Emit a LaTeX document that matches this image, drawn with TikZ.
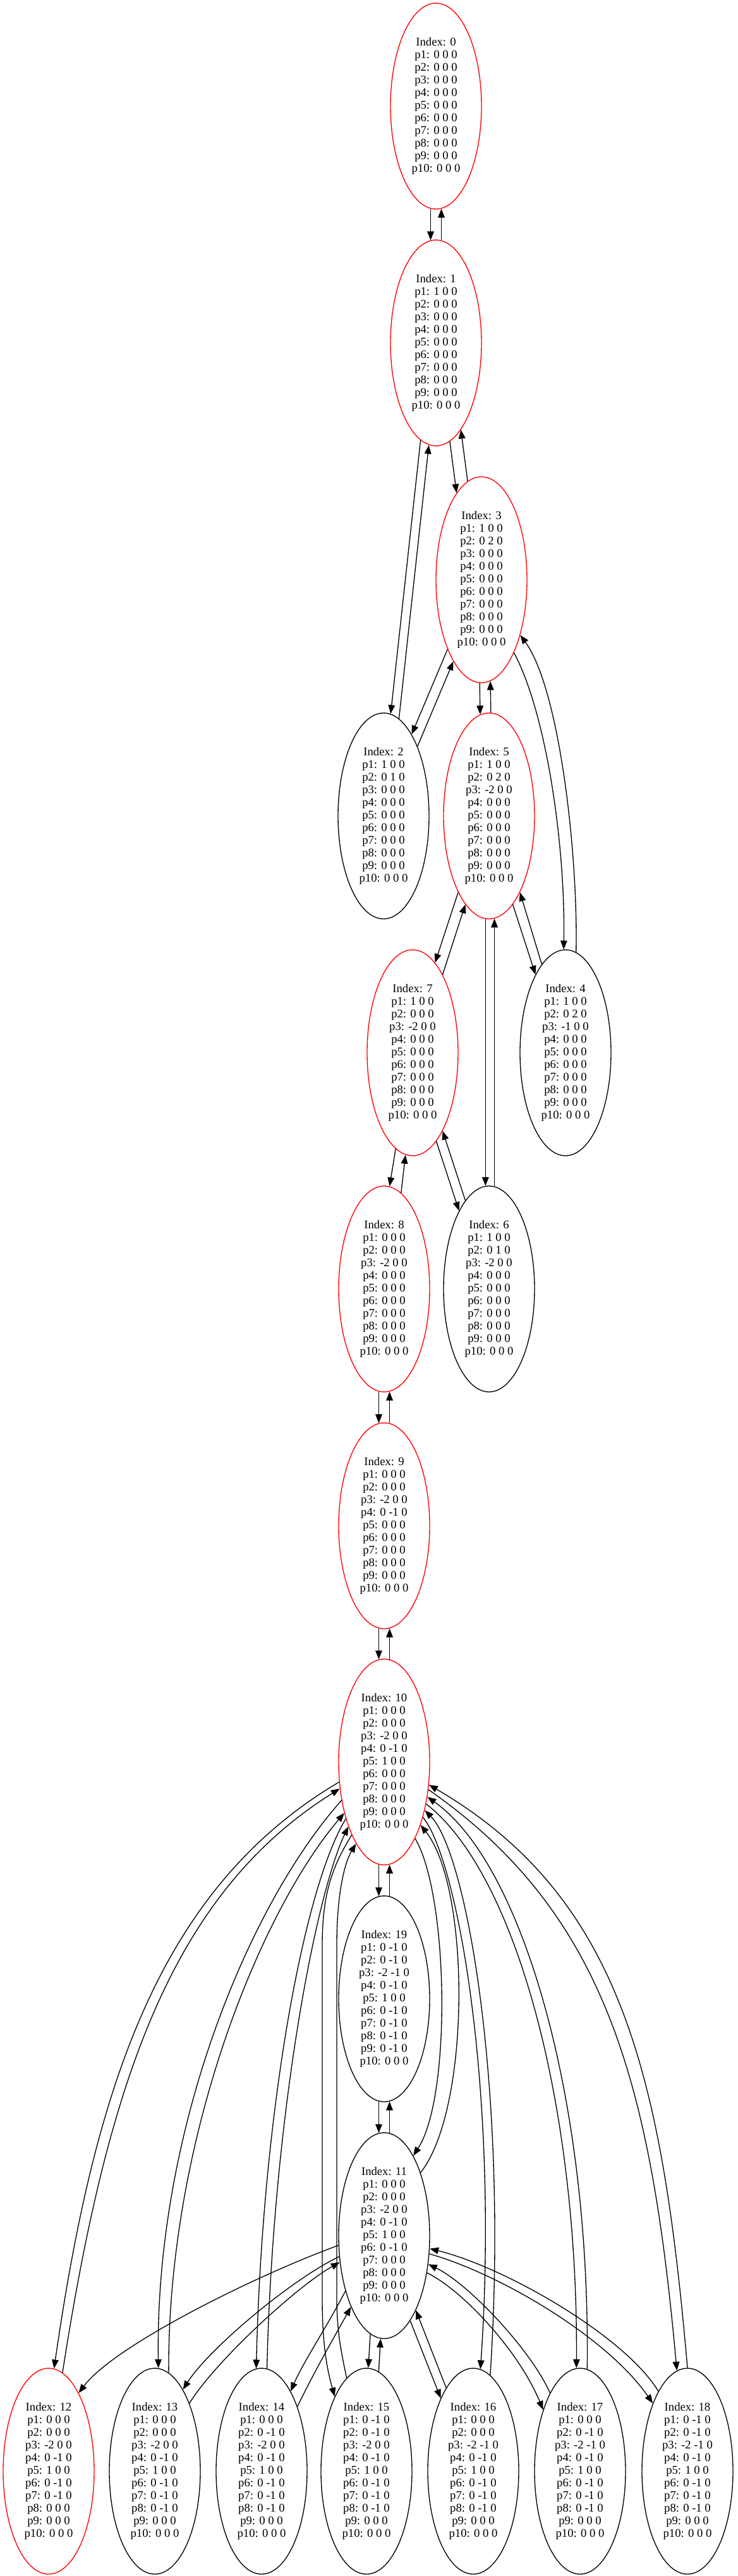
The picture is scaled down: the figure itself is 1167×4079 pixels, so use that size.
\documentclass[tikz,border=0pt]{standalone}
\usepackage{fontspec}
\setmainfont{Liberation Serif}
\usetikzlibrary{shapes.geometric,arrows.meta}
\newcommand\Zr{0 0 0}
\newcommand\Mn{0 -1 0}
\begin{document}
\begin{tikzpicture}[x=0.75pt,y=-0.75pt,
  st/.style={ellipse,draw,line width=1pt,minimum width=108pt,minimum height=244.5pt,inner sep=0pt,align=center,font=\fontsize{14}{15}\selectfont},
  fin/.style={draw=red},
  arr/.style={line width=1pt,-{Triangle[length=10.5pt,width=8pt]}}]
\useasboundingbox (0,0) rectangle (1167,4079);
% nodes
\node[st,fin] (n0) at (690,168) {Index: 0\\p1: \Zr\\p2: \Zr\\p3: \Zr\\p4: \Zr\\p5: \Zr\\p6: \Zr\\p7: \Zr\\p8: \Zr\\p9: \Zr\\p10: \Zr};
\node[st,fin] (n1) at (690,543) {Index: 1\\p1: 1 0 0\\p2: \Zr\\p3: \Zr\\p4: \Zr\\p5: \Zr\\p6: \Zr\\p7: \Zr\\p8: \Zr\\p9: \Zr\\p10: \Zr};
\node[st,fin] (n3) at (762,918) {Index: 3\\p1: 1 0 0\\p2: 0 2 0\\p3: \Zr\\p4: \Zr\\p5: \Zr\\p6: \Zr\\p7: \Zr\\p8: \Zr\\p9: \Zr\\p10: \Zr};
\node[st] (n2) at (607,1292) {Index: 2\\p1: 1 0 0\\p2: 0 1 0\\p3: \Zr\\p4: \Zr\\p5: \Zr\\p6: \Zr\\p7: \Zr\\p8: \Zr\\p9: \Zr\\p10: \Zr};
\node[st,fin] (n5) at (774,1292) {Index: 5\\p1: 1 0 0\\p2: 0 2 0\\p3: -2 0 0\\p4: \Zr\\p5: \Zr\\p6: \Zr\\p7: \Zr\\p8: \Zr\\p9: \Zr\\p10: \Zr};
\node[st,fin] (n7) at (653,1667) {Index: 7\\p1: 1 0 0\\p2: \Zr\\p3: -2 0 0\\p4: \Zr\\p5: \Zr\\p6: \Zr\\p7: \Zr\\p8: \Zr\\p9: \Zr\\p10: \Zr};
\node[st] (n4) at (895,1667) {Index: 4\\p1: 1 0 0\\p2: 0 2 0\\p3: -1 0 0\\p4: \Zr\\p5: \Zr\\p6: \Zr\\p7: \Zr\\p8: \Zr\\p9: \Zr\\p10: \Zr};
\node[st,fin] (n8) at (608,2041) {Index: 8\\p1: \Zr\\p2: \Zr\\p3: -2 0 0\\p4: \Zr\\p5: \Zr\\p6: \Zr\\p7: \Zr\\p8: \Zr\\p9: \Zr\\p10: \Zr};
\node[st] (n6) at (774,2041) {Index: 6\\p1: 1 0 0\\p2: 0 1 0\\p3: -2 0 0\\p4: \Zr\\p5: \Zr\\p6: \Zr\\p7: \Zr\\p8: \Zr\\p9: \Zr\\p10: \Zr};
\node[st,fin] (n9) at (608,2416) {Index: 9\\p1: \Zr\\p2: \Zr\\p3: -2 0 0\\p4: \Mn\\p5: \Zr\\p6: \Zr\\p7: \Zr\\p8: \Zr\\p9: \Zr\\p10: \Zr};
\node[st,fin] (n10) at (608,2790) {Index: 10\\p1: \Zr\\p2: \Zr\\p3: -2 0 0\\p4: \Mn\\p5: 1 0 0\\p6: \Zr\\p7: \Zr\\p8: \Zr\\p9: \Zr\\p10: \Zr};
\node[st] (n19) at (608,3165) {Index: 19\\p1: \Mn\\p2: \Mn\\p3: -2 -1 0\\p4: \Mn\\p5: 1 0 0\\p6: \Mn\\p7: \Mn\\p8: \Mn\\p9: \Mn\\p10: \Zr};
\node[st] (n11) at (608,3540) {Index: 11\\p1: \Zr\\p2: \Zr\\p3: -2 0 0\\p4: \Mn\\p5: 1 0 0\\p6: \Mn\\p7: \Zr\\p8: \Zr\\p9: \Zr\\p10: \Zr};
\node[st,fin] (n12) at (77,3913) {Index: 12\\p1: \Zr\\p2: \Zr\\p3: -2 0 0\\p4: \Mn\\p5: 1 0 0\\p6: \Mn\\p7: \Mn\\p8: \Zr\\p9: \Zr\\p10: \Zr};
\node[st] (n13) at (245,3913) {Index: 13\\p1: \Zr\\p2: \Zr\\p3: -2 0 0\\p4: \Mn\\p5: 1 0 0\\p6: \Mn\\p7: \Mn\\p8: \Mn\\p9: \Zr\\p10: \Zr};
\node[st] (n14) at (414,3913) {Index: 14\\p1: \Zr\\p2: \Mn\\p3: -2 0 0\\p4: \Mn\\p5: 1 0 0\\p6: \Mn\\p7: \Mn\\p8: \Mn\\p9: \Zr\\p10: \Zr};
\node[st] (n15) at (580,3913) {Index: 15\\p1: \Mn\\p2: \Mn\\p3: -2 0 0\\p4: \Mn\\p5: 1 0 0\\p6: \Mn\\p7: \Mn\\p8: \Mn\\p9: \Zr\\p10: \Zr};
\node[st] (n16) at (749,3913) {Index: 16\\p1: \Zr\\p2: \Zr\\p3: -2 -1 0\\p4: \Mn\\p5: 1 0 0\\p6: \Mn\\p7: \Mn\\p8: \Mn\\p9: \Zr\\p10: \Zr};
\node[st] (n17) at (918,3913) {Index: 17\\p1: \Zr\\p2: \Mn\\p3: -2 -1 0\\p4: \Mn\\p5: 1 0 0\\p6: \Mn\\p7: \Mn\\p8: \Mn\\p9: \Zr\\p10: \Zr};
\node[st] (n18) at (1088,3913) {Index: 18\\p1: \Mn\\p2: \Mn\\p3: -2 -1 0\\p4: \Mn\\p5: 1 0 0\\p6: \Mn\\p7: \Mn\\p8: \Mn\\p9: \Zr\\p10: \Zr};
% upper edges
\draw[arr] (n0.267) -- (n1.93);
\draw[arr] (n1.87) -- (n0.273);
\draw[arr] (n1.261) -- (n2.86);
\draw[arr] (n2.81) -- (n1.266);
\draw[arr] (n1.278) -- (n3.106);
\draw[arr] (n3.98) -- (n1.286);
\draw[arr] (n3.244) -- (n2.71);
\draw[arr] (n2.64) -- (n3.251);
\draw[arr] (n3.269) -- (n5.95);
\draw[arr] (n5.89) -- (n3.275);
\draw[arr] (n3.294) .. controls (865,1130) and (895,1340) .. (n4.91);
\draw[arr] (n4.84) .. controls (915,1350) and (885,1090) .. (n3.305);
\draw[arr] (n5.248) -- (n7.76);
\draw[arr] (n7.69) -- (n5.255);
\draw[arr] (n5.268) -- (n6.92);
\draw[arr] (n6.87) -- (n5.273);
\draw[arr] (n5.285) -- (n4.111);
\draw[arr] (n4.105) -- (n5.292);
\draw[arr] (n7.260) -- (n8.87);
\draw[arr] (n8.80) -- (n7.266);
\draw[arr] (n7.285) -- (n6.111);
\draw[arr] (n6.105) -- (n7.291);
\draw[arr] (n8.267) -- (n9.93);
\draw[arr] (n9.87) -- (n8.273);
\draw[arr] (n9.267) -- (n10.93);
\draw[arr] (n10.87) -- (n9.273);
\draw[arr] (n10.267) -- (n19.93);
\draw[arr] (n19.87) -- (n10.273);
\draw[arr] (n19.267) -- (n11.93);
\draw[arr] (n11.87) -- (n19.273);
\draw[arr] (n10.292) .. controls (710,3000) and (715,3320) .. (n11.70);
\draw[arr] (n11.60) .. controls (745,3340) and (745,2990) .. (n10.300);
% 10 <-> bottom row
\draw[arr] (n10.204) .. controls (252,2990) and (150,3304) .. (n12.87);
\draw[arr] (n12.82) .. controls (170,3300) and (270,3000) .. (n10.211);
\draw[arr] (n10.222) .. controls (390,3020) and (245,3380) .. (n13.88);
\draw[arr] (n13.82) .. controls (265,3390) and (410,3030) .. (n10.232);
\draw[arr] (n10.236) .. controls (480,2990) and (415,3350) .. (n14.93);
\draw[arr] (n14.87) .. controls (432,3350) and (500,3000) .. (n10.241);
\draw[arr] (n10.246) .. controls (530,2950) and (510,2990) .. (510,3080) -- (510,3640) .. controls (510,3710) and (517,3750) .. (n15.113);
\draw[arr] (n15.102) .. controls (540,3725) and (533,3690) .. (533,3640) -- (533,3080) .. controls (533,3000) and (545,2950) .. (n10.251);
\draw[arr] (n10.305) .. controls (725,2945) and (790,3320) .. (n16.86);
\draw[arr] (n16.80) .. controls (805,3320) and (740,2935) .. (n10.310);
\draw[arr] (n10.315) .. controls (815,2965) and (915,3330) .. (n17.92);
\draw[arr] (n17.86) .. controls (935,3320) and (825,2950) .. (n10.321);
\draw[arr] (n10.328) .. controls (960,3030) and (1030,3300) .. (n18.96);
\draw[arr] (n18.90) .. controls (1048,3290) and (985,3005) .. (n10.333);
% 11 <-> bottom row
\draw[arr] (n11.192) .. controls (400,3605) and (180,3715) .. (n12.69);
\draw[arr] (n11.205) .. controls (460,3610) and (330,3720) .. (n13.71);
\draw[arr] (n13.63) .. controls (340,3740) and (470,3620) .. (n11.211);
\draw[arr] (n11.235) .. controls (520,3680) and (480,3740) .. (n14.70);
\draw[arr] (n14.61) .. controls (500,3750) and (535,3690) .. (n11.245);
\draw[arr] (n11.262) -- (n15.89);
\draw[arr] (n15.83) -- (n11.268);
\draw[arr] (n11.287) -- (n16.114);
\draw[arr] (n16.108) -- (n11.293);
\draw[arr] (n11.319) .. controls (730,3625) and (820,3720) .. (n17.121);
\draw[arr] (n17.111) .. controls (840,3720) and (740,3615) .. (n11.327);
\draw[arr] (n11.338) .. controls (790,3600) and (960,3700) .. (n18.117);
\draw[arr] (n18.110) .. controls (990,3700) and (800,3590) .. (n11.344);
\end{tikzpicture}
\end{document}
